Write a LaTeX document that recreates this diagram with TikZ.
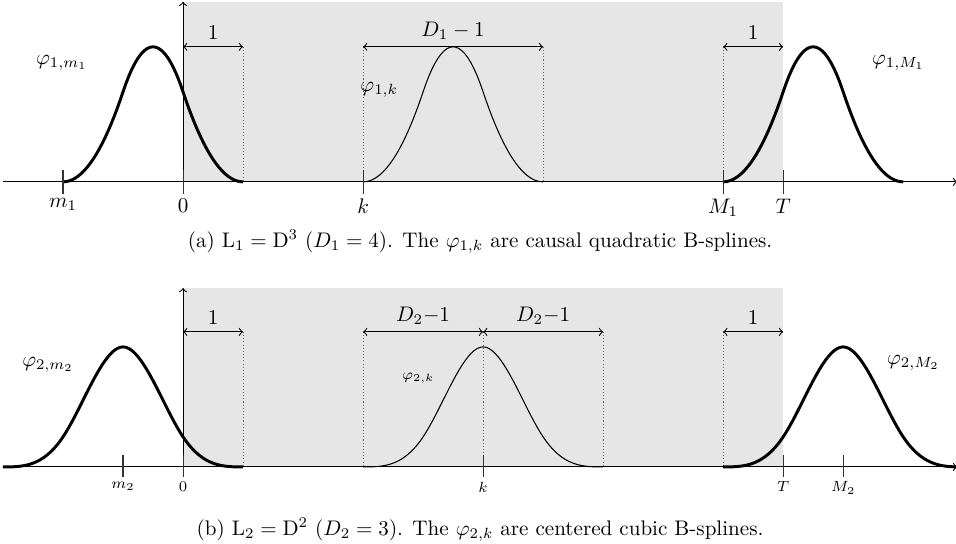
\documentclass[tikz,border=0pt]{standalone}
\usepackage{xcolor}
\usepackage{tikz}
\usetikzlibrary{positioning}
\definecolor{figShade}{HTML}{E6E6E6}
\definecolor{figGuide}{HTML}{666666}
\definecolor{figTick}{HTML}{333333}

\begin{document}
\begin{tikzpicture}[
  x=1cm, y=1cm,
  declare function={
    bq(\t)=and(\t>=0,\t<1)*\t*\t/2 + and(\t>=1,\t<2)*(-2*\t*\t+6*\t-3)/2 + and(\t>=2,\t<=3)*(3-\t)*(3-\t)/2;
    bc(\t)=(abs(\t)<1)*(2/3-\t*\t+abs(\t)*abs(\t)*abs(\t)/2) + and(abs(\t)>=1,abs(\t)<=2)*(2-abs(\t))*(2-abs(\t))*(2-abs(\t))/6;
  },
  axis/.style={->, line width=0.5pt},
  tick/.style={line width=0.5pt, figTick},
  ticklabel/.style={below, inner sep=2pt, font=#1, black},
  ticklabel/.default=\normalsize,
  guide/.style={densely dotted, figGuide, line width=0.5pt},
  dim/.style={<->, line width=0.5pt},
  spline/.style={line width=0.5pt},
  boldspline/.style={line width=1.4pt},
  caption/.style={font=\normalsize},
]
\useasboundingbox (-3.05,-6.02) rectangle (12.88,3.03);

% === (a) causal quadratic ===
\fill[figShade] (0,0) rectangle (10,3);

\coordinate (a-o) at (0,0);
\coordinate (a-top) at (0,3);
\coordinate (a-left) at (-3,0);
\coordinate (a-right) at (12.9,0);

\coordinate (a-d0) at (0,2.25);
\coordinate (a-d1) at (1,2.25);
\coordinate (a-dk) at (3,2.25);
\coordinate (a-dk3) at (6,2.25);
\coordinate (a-dM) at (9,2.25);
\coordinate (a-dT) at (10,2.25);

\draw[guide] (a-d1) -- (a-d1 |- a-o);
\draw[guide] (a-dk) -- (a-dk |- a-o);
\draw[guide] (a-dk3) -- (a-dk3 |- a-o);
\draw[guide] (a-dM) -- (a-dM |- a-o);

\draw[dim] (a-d0) -- node[above] {$1$} (a-d1);
\draw[dim] (a-dk) -- node[above] {$D_1-1$} (a-dk3);
\draw[dim] (a-dM) -- node[above] {$1$} (a-dT);

\draw[axis] (a-left) -- (a-right);
\draw[axis] (a-o) -- (a-top);

\draw[boldspline] plot[domain=-2:1, samples=61] (\x,{3*bq(\x+2)});
\draw[spline] plot[domain=3:6, samples=61] (\x,{3*bq(\x-3)});
\draw[boldspline] plot[domain=9:12, samples=61] (\x,{3*bq(\x-9)});

\draw[tick] (-2,0.2) -- (-2,-0.2) node[ticklabel] (a-m) {$m_1$};
\draw[tick] (0,0.2) -- (0,-0.2) node[ticklabel] (a-zero) {$0$};
\draw[tick] (3,0.2) -- (3,-0.2) node[ticklabel] (a-k) {$k$};
\draw[tick] (9,0.2) -- (9,-0.2) node[ticklabel] (a-M) {$M_1$};
\draw[tick] (10,0.2) -- (10,-0.2) node[ticklabel] (a-T) {$T$};

\node (a-phim) at (-2.02,1.98) {$\varphi_{1,m_1}$};
\node (a-phik) at (3.27,1.53) {$\varphi_{1,k}$};
\node (a-phiM) at (11.92,1.98) {$\varphi_{1,M_1}$};

\node[caption] (a-cap) at (4.95,-1.0) {(a) $\mathrm{L}_1=\mathrm{D}^3$ ($D_1=4$). The $\varphi_{1,k}$ are causal quadratic B-splines.};

% === (b) centered cubic ===
\fill[figShade] (0,-4.75) rectangle (10,-1.77);

\coordinate (b-o) at (0,-4.75);
\coordinate (b-top) at (0,-1.77);
\coordinate (b-left) at (-3,-4.75);
\coordinate (b-right) at (12.9,-4.75);

\coordinate (b-d0) at (0,-2.5);
\coordinate (b-d1) at (1,-2.5);
\coordinate (b-dk0) at (3,-2.5);
\coordinate (b-dk) at (5,-2.5);
\coordinate (b-dk2) at (7,-2.5);
\coordinate (b-dM) at (9,-2.5);
\coordinate (b-dT) at (10,-2.5);

\draw[guide] (b-d1) -- (b-d1 |- b-o);
\draw[guide] (b-dk0) -- (b-dk0 |- b-o);
\draw[guide] (b-dk) -- (b-dk |- b-o);
\draw[guide] (b-dk2) -- (b-dk2 |- b-o);
\draw[guide] (b-dM) -- (b-dM |- b-o);

\draw[dim] (b-d0) -- node[above] {$1$} (b-d1);
\draw[dim] (b-dk0) -- node[above] {$D_2{-}1$} (b-dk);
\draw[dim] (b-dk) -- node[above] {$D_2{-}1$} (b-dk2);
\draw[dim] (b-dM) -- node[above] {$1$} (b-dT);

\draw[axis] (b-left) -- (b-right);
\draw[axis] (b-o) -- (b-top);

\draw[boldspline] plot[domain=-3:1, samples=81] (\x,{-4.75+3*bc(\x+1)});
\draw[spline] plot[domain=3:7, samples=81] (\x,{-4.75+3*bc(\x-5)});
\draw[boldspline] plot[domain=9:13, samples=81] (\x,{-4.75+3*bc(\x-11)});

\draw[tick] (-1,-4.55) -- (-1,-4.92) node[ticklabel=\scriptsize] (b-m) {$m_2$};
\draw[tick] (0,-4.55) -- (0,-4.92) node[ticklabel=\scriptsize] (b-zero) {$0$};
\draw[tick] (5,-4.55) -- (5,-4.92) node[ticklabel=\scriptsize] (b-k) {$k$};
\draw[tick] (10,-4.55) -- (10,-4.92) node[ticklabel=\scriptsize] (b-T) {$T$};
\draw[tick] (11,-4.55) -- (11,-4.92) node[ticklabel=\scriptsize] (b-M) {$M_2$};

\node (b-phim) at (-2.25,-3.05) {$\varphi_{2,m_2}$};
\node[font=\scriptsize] (b-phik) at (3.92,-3.27) {$\varphi_{2,k}$};
\node (b-phiM) at (12.17,-3.02) {$\varphi_{2,M_2}$};

\node[caption] (b-cap) at (4.95,-5.8) {(b) $\mathrm{L}_2=\mathrm{D}^2$ ($D_2=3$). The $\varphi_{2,k}$ are centered cubic B-splines.};
\end{tikzpicture}
\end{document}
